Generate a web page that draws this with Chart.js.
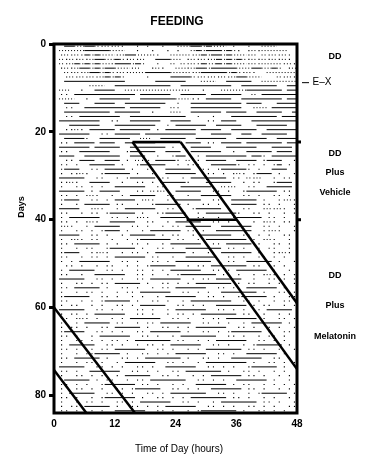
<!DOCTYPE html>
<html>
<head>
<meta charset="utf-8">
<script src="https://cdn.jsdelivr.net/npm/chart.js@4.4.1/dist/chart.umd.min.js"></script>
<style>
  html, body { margin: 0; padding: 0; background: #fff; }
  #wrap { width: 367px; height: 474px; }
</style>
</head>
<body>
<div id="wrap"><canvas id="actogram" width="367" height="474"></canvas></div>
<script>
// one string per day, one character per hour (0-48, double plotted)
// '=' solid feeding bout, '-' broken bout, '.' single event, ' ' nothing
const activityRows = [
  "  ==--==-.-.-.  . .  .  .--==-=--- .  .  ---    ",
  " -----=====---  .  .  . .  -=-===-=-. .-.-----  ",
  " .-.-.=-=---.-==--.-.  ----.-=-==-=---.- -.-.-. ",
  " -.-.-.-==--=-.-.-  ===-- .-.-.-=-=-=-.-.-.-.-. ",
  " -.-=-=-=--.===-=-  .  - -.-.=--=-=---.-.----.-.",
  " .-.-==-=-==---.-  .-.  --.-==-=====---==--=- .-",
  "  -.-.-==-=-.-.---=====--.-.-=====-=-.-.  ------",
  "  .-.-.-.-=-=-    .    ====-.-.-.-.-==---   -.-.",
  "  ============      ======   ---  =====  -------",
  "       ---  ===========  ==========  =======  ===",
  " --  .  ====  -------------  .   -----======= ===",
  " .. ============ ======  ===== ======  - ========",
  " ---  .  ======  =======---.. =====  ======== ===",
  "  ===   ====  ========  .  ========== ===   =====",
  "  ..  ======== ======  -.  ==========  .-- ======",
  "  ========= =====  .   --  ====== ====  =====  ==",
  "  .. ========  ===========  .  .   ========= ====",
  " ========  ..  ======  ====   .. ===   ========= ",
  "   ======   ========  . ======  =====   ======   ",
  "  ..-. ===== ====== . ====== ====  =====  ====== ",
  " ======  .. ===== ==========   ====  ==  =====  =",
  "  ====.  ======  --  =====  ======  ======  ==== ",
  " .. ==== ===  ======      === .. ==== ======= ===",
  " ====== =====  ======= . . ====   ======   ====  ",
  " ..  ======   .=====  ===  ======  .  ===== ===  ",
  " ===  =======  ===  .  .==  . ======== ==. =====",
  "  .. ===  === . -.- ====. -.. ====  ==== .===  .",
  " .. .  ===== .  .=====  . ...  =====. .. . .= . ",
  " .===  .. ==== .  ..  =====  .. .=====. .  ===  ",
  " . ..-.  .===== .  .  ======  .. . .-. .=== .  .",
  " =====  ..  . .===== ..  . ======= .. -.-  . .. ",
  " ..-.  ====  .  .. . =====.   =====  . ..  .=== ",
  " .  .. . .  ======  ..   ======. -.-  ..  ===== ",
  " ===== . ====   .. -.-  =====  .. .  .====== ..  ",
  " .. . .-.  . . =====  ..  .  ======  .. .  .. . .",
  " .===  .. . ==== .-.  . =====  ..  ===== .  ..-. ",
  " .  . ===== ..  .  .===== .  .. .  ===== .. .  . ",
  " ====  .-.  . ======  ..   .===== .  ..  .-.-. ..",
  " ..  . .. .===== .  ..====  . ======.  .. .  . . ",
  " . ======  .. . .-.  =====  ..  .  .===== .. .  .",
  " .. . .-.  =====  ..  . =====  .. . .  . .-. .. .",
  " .-.  . =====  .. .  . .. =====  ======  .. .  . ",
  " .  .. . .=== .  . ====== .. .  =======  ..-.  ..",
  " ====  .. .  . ===== . ..  . ======  .. . .  .. .",
  " . .-. ..  .  . .====== ..  . ======== . .-.  . ",
  " .. ===== . .  .. .  . ======  .. ===== .  .. . .",
  " .  . ..  .===== .  .. .  ======= .. .  . ..  . .",
  " .===  ..-.  . .. . ====== .  .. ====== .  ..-. ",
  " ..  . .. . ====== ..  .  ======  .. .  .. . .  .",
  " . . ======  .. .  .. . ======= . ..  ===== .  . ",
  "  .. .  . ..  . . .=====  . .. ======= ..  . .  .",
  " . =====  .. .  .. . . ======  .. . ====== .  . .",
  " ..  .  ======  .. .  . .======= .. .  . .-. . . ",
  " =====  .. . .  .. ======  . .. =====  .  .. . . ",
  " .  .. . .. ===== .  .. . . ======= . ..  . .  ..",
  " .. ===== .  .. .  . .. ======  .. .  ====== .  .",
  " .  . .. .  . .. ======  .. . .  ======= .  .. . ",
  " .=====  .. .  . .  . ======  .. .  .===== .  ..",
  " ..  . . .===== .  .. .  . ========  .. .  . .. ",
  " . ..  . .  .. . =====  .. . .  ====== . ..  . . ",
  " =====  .. . .  .. .  . ======  .. . .  . =====  ",
  " . .. . ======  .. .  . .. . ======= ..  .  . . ",
  " .. .-. .  . . ======  .. .  . .. ====== .  .. .",
  " .  . ===== ..  . .. ======  .. . .  . ====== . ",
  " . .. .  .. ===== .  .. . . ======  .. .  . .  ..",
  " .====  .. . .  .. ====== .  .. . .====== .  .. ",
  " .. .  . ======  .. .  . =======  .. .  . .. .  ",
  " .  .. . . .. . ======= ..  . . ======  .. . .  ",
  " . =====  .. .  . .. . ======  .. .  . .===== . ",
  " .. .  . .. ======  .. .  . . ======= .. .  .  ..",
  " .  . ..===== .  .. . . ======  .. .  ====== .  ",
  " .. ===== .  .. . ======= .  .. .  ======  .. . ",
  " .  . .. .  . ======  .. .  . ======== .  .. . .",
  " =====  .. . .  .. .  ======  .. . .  .===== .  ",
  " .. .  ======  .. . .  .. ======= .  .. .  . . ",
  " .  .. . .  . =====  .. .  . . ====== .. .  . . ",
  " .===== . ..  . .. =======  .. . .  ====== .  .",
  " .. . .  .====== .. .  . .  ====== . ..  . . . .",
  " .  .. . .  .. .=====  .. . .  ====== .. .  . . ",
  " . =====  .. . .  .. . =======  .. .  . .===== .",
  " .. .  . .====== .  .. . . ======= .. .  . .  . ",
  " .  . .. .  .. . ======  .. .  . ======= .. .  . ",
  " . .. ===== .  .. . . ======  .. . .  .. . .  .. ",
  " .. .  . .  ======  .. .  . .======= .  .. . .  "
];

// onset lines drawn over the record: [hour, day]
const boxTop     = [[15.5, 22.3], [25.0, 22.3]];
const onsetLeft  = [[15.5, 22.3], [48.0, 74.0]];
const onsetRight = [[25.0, 22.3], [48.0, 59.0]];
const vehicleEnd = [[26.2, 40.0], [36.0, 40.0]];
const wrapOne    = [[0.0, 60.0], [16.0, 84.0]];
const wrapTwo    = [[0.0, 74.2], [6.4, 84.0]];

const xTicks = [0, 12, 24, 36, 48];
const yTicks = [0, 20, 40, 60, 80];
const conditions = [
  { text: 'DD', day: 2.9 },
  { text: 'DD', day: 24.9 },
  { text: 'Plus', day: 29.3 },
  { text: 'Vehicle', day: 33.8 },
  { text: 'DD', day: 52.7 },
  { text: 'Plus', day: 59.5 },
  { text: 'Melatonin', day: 66.6 }
];
const exDay = 8.8;
const sideMarks = [22.3, 40.0];

const FONT = '"Liberation Sans", Arial, sans-serif';

// split rows into bouts, broken bouts and single events
const solid = [], broken = [], dots = [];
activityRows.forEach((row, d) => {
  const s = row.padEnd(48, ' ').slice(0, 48);
  const y = d + 0.5;
  let i = 0;
  while (i < 48) {
    const c = s[i];
    if (c === ' ') { i++; continue; }
    let j = i;
    while (j < 48 && s[j] === c) j++;
    if (c === '=') { solid.push({ x: i, y }, { x: j, y }, { x: j, y: null }); }
    else if (c === '-') { broken.push({ x: i, y }, { x: j, y }, { x: j, y: null }); }
    else { for (let k = i; k < j; k++) dots.push({ x: k + 0.5, y }); }
    i = j;
  }
});

const toPts = arr => arr.map(p => ({ x: p[0], y: p[1] }));
const heavy = pts => ({
  type: 'line', data: toPts(pts), borderColor: '#000', borderWidth: 2.5,
  pointRadius: 0, showLine: true, order: 0
});

const framePlugin = {
  id: 'frame',
  afterDatasetsDraw(chart) {
    const { ctx, chartArea: a, scales } = chart;
    ctx.save();
    ctx.strokeStyle = '#000';
    ctx.lineWidth = 3;
    ctx.strokeRect(a.left, a.top, a.right - a.left, a.bottom - a.top);

    ctx.fillStyle = '#000';
    sideMarks.forEach(d => {
      const y = scales.y.getPixelForValue(d);
      ctx.fillRect(a.right, y - 1.5, 4, 3);
    });

    ctx.textAlign = 'center';
    ctx.textBaseline = 'middle';
    ctx.font = 'bold 12px ' + FONT;
    ctx.fillText('FEEDING', 177, 22);

    ctx.font = 'bold 9px ' + FONT;
    conditions.forEach(c => {
      ctx.fillText(c.text, 335, scales.y.getPixelForValue(c.day));
    });

    const ey = scales.y.getPixelForValue(exDay);
    ctx.lineWidth = 1;
    ctx.beginPath();
    ctx.moveTo(302, ey); ctx.lineTo(309, ey);
    ctx.stroke();
    ctx.font = '10px ' + FONT;
    ctx.fillText('E\u2013X', 322, ey);

    ctx.font = '10px ' + FONT;
    ctx.fillText('Time of Day (hours)', 179, 449);

    ctx.save();
    ctx.translate(22, 207);
    ctx.rotate(-Math.PI / 2);
    ctx.font = 'bold 9px ' + FONT;
    ctx.fillText('Days', 0, 0);
    ctx.restore();
    ctx.restore();
  }
};

new Chart(document.getElementById('actogram'), {
  type: 'scatter',
  data: {
    datasets: [
      {
        type: 'line', data: solid, borderColor: '#000', borderWidth: 1,
        pointRadius: 0, spanGaps: false, showLine: true, order: 2
      },
      {
        type: 'line', data: broken, borderColor: '#000', borderWidth: 1,
        borderDash: [1, 2], pointRadius: 0, spanGaps: false, showLine: true, order: 2
      },
      {
        data: dots, backgroundColor: '#000', borderWidth: 0,
        pointStyle: 'rect', pointRadius: 0.8, order: 3
      },
      heavy(boxTop), heavy(onsetLeft), heavy(onsetRight),
      heavy(vehicleEnd), heavy(wrapOne), heavy(wrapTwo)
    ]
  },
  options: {
    responsive: false,
    animation: false,
    events: [],
    layout: { padding: { top: 44, right: 70, left: 0, bottom: 0 } },
    plugins: { legend: { display: false }, tooltip: { enabled: false } },
    scales: {
      x: {
        type: 'linear', min: 0, max: 48,
        afterBuildTicks: s => { s.ticks = xTicks.map(v => ({ value: v })); },
        afterFit: s => { s.height = 61; },
        grid: { display: false, drawTicks: false },
        border: { display: false },
        ticks: { color: '#000', font: { family: FONT, size: 10, weight: 'bold' }, padding: 5, maxRotation: 0 }
      },
      y: {
        type: 'linear', min: 0, max: 84, reverse: true,
        afterBuildTicks: s => { s.ticks = yTicks.map(v => ({ value: v })); },
        afterFit: s => { s.width = 54; },
        grid: { drawOnChartArea: false, color: '#000', tickLength: 5, tickWidth: 3 },
        border: { display: false },
        ticks: { color: '#000', font: { family: FONT, size: 10, weight: 'bold' }, padding: 3 }
      }
    }
  },
  plugins: [framePlugin]
});
</script>
</body>
</html>
